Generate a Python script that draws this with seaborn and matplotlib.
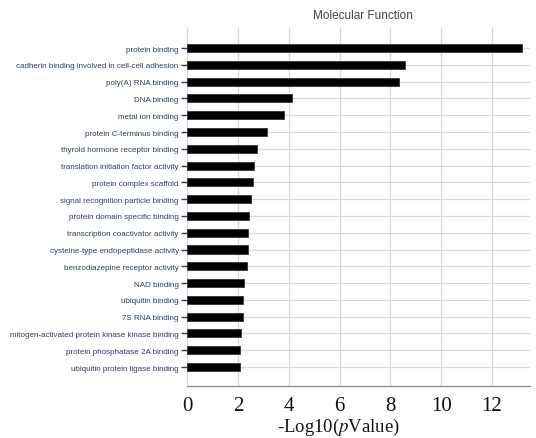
import matplotlib
matplotlib.use("Agg")
import matplotlib.pyplot as plt
import seaborn as sns
import pandas as pd

categories = [
    "protein binding",
    "cadherin binding involved in cell-cell adhesion",
    "poly(A) RNA binding",
    "DNA binding",
    "metal ion binding",
    "protein C-terminus binding",
    "thyroid hormone receptor binding",
    "translation initiation factor activity",
    "protein complex scaffold",
    "signal recognition particle binding",
    "protein domain specific binding",
    "transcription coactivator activity",
    "cysteine-type endopeptidase activity",
    "benzodiazepine receptor activity",
    "NAD binding",
    "ubiquitin binding",
    "7S RNA binding",
    "mitogen-activated protein kinase kinase binding",
    "protein phosphatase 2A binding",
    "ubiquitin protein ligase binding",
]
values = [13.19, 8.59, 8.33, 4.14, 3.82, 3.15, 2.76, 2.64, 2.60, 2.50,
          2.42, 2.40, 2.40, 2.34, 2.26, 2.20, 2.20, 2.12, 2.08, 2.07]
x_ticks = [0, 2, 4, 6, 8, 10, 12]
title = "Molecular Function"

df = pd.DataFrame({"term": categories, "value": values})

sns.set_style("white")
fig = plt.figure(figsize=(5.36, 4.39), dpi=100)
ax = fig.add_axes([0.349, 0.1185, 0.640, 0.8175])

sns.barplot(data=df, x="value", y="term", orient="h", color="black",
            edgecolor="#333333", linewidth=0.6, width=0.48, saturation=1, ax=ax)

ax.set_xlim(0, 13.5)
ax.set_ylim(len(categories) - 1 + 1.13, -1.25)
ax.set_xticks(x_ticks)
ax.set_xticklabels([str(t) for t in x_ticks], family="Liberation Serif", fontsize=15)
ax.tick_params(axis="x", direction="out", length=4, width=0.8, color="#555555", pad=3,
               labelcolor="#111111")
ax.tick_params(axis="y", direction="out", length=4, width=1.0, color="#2a3f5f", pad=2,
               labelsize=5.8, labelcolor="#2a3f5f", left=True)
for lab in ax.get_yticklabels():
    lab.set_family(["Liberation Sans", "DejaVu Sans"])

ax.grid(True, axis="both", color="#d5dae0", linewidth=0.9)
ax.set_axisbelow(True)
for s in ["top", "right", "left"]:
    ax.spines[s].set_visible(False)
ax.spines["bottom"].set_color("#888888")
ax.spines["bottom"].set_linewidth(0.9)

ax.set_ylabel("")
ax.set_xlabel("")
fig.text(0.631, 0.027, r"-Log10($p$Value)", ha="center", va="center",
         fontsize=13.5, family="Liberation Serif", color="#111111",
         math_fontfamily="stix")
fig.text(0.677, 0.963, title, ha="center", va="center", fontsize=8.5,
         family="Liberation Sans", color="#444444")

fig.savefig("out.png", dpi=100)
